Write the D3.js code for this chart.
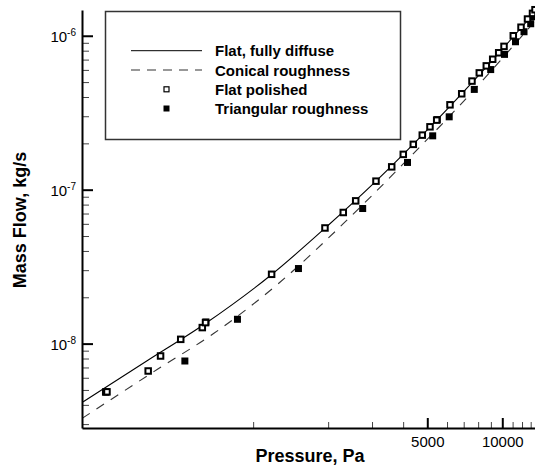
<html>
<head>
  <style>
  body { margin: 0; background: white; }
  text { font-family: Arial, "Liberation Sans", Helvetica, sans-serif; }
  </style>
  <script src="https://d3js.org/d3.v7.min.js"></script>
</head>
<body>
  <script type="text/javascript">
  // pressure (Pa) and mass flow (kg/s)
  var polishedP = [256, 259, 379, 425, 512, 625, 644, 1186, 1942, 2300, 2580, 3112, 3599, 4005, 4393, 4774, 5126, 5454, 6167, 6873, 7557, 8086, 8626, 9152, 9673, 10161, 11070, 11890, 12625, 13222, 13530];
  var polishedM = [4.85e-9, 4.86e-9, 6.64e-9, 8.31e-9, 1.066e-8, 1.271e-8, 1.369e-8, 2.82e-8, 5.64e-8, 7.11e-8, 8.46e-8, 1.136e-7, 1.407e-7, 1.696e-7, 1.97e-7, 2.262e-7, 2.561e-7, 2.831e-7, 3.559e-7, 4.198e-7, 5.076e-7, 5.738e-7, 6.373e-7, 7.035e-7, 7.752e-7, 8.531e-7, 1.0e-6, 1.136e-6, 1.284e-6, 1.398e-6, 1.476e-6];

  var triangP = [532, 646, 865, 1520, 2752, 4164, 5256, 5484, 6122, 7720, 8984, 10208, 11298, 12223, 13004, 13468];
  var triangM = [7.71e-9, 1.382e-8, 1.439e-8, 3.074e-8, 7.545e-8, 1.503e-7, 2.238e-7, 2.852e-7, 2.974e-7, 4.482e-7, 6.03e-7, 7.569e-7, 9.141e-7, 1.062e-6, 1.197e-6, 1.329e-6];

  var diffuseP = [206, 378, 641, 1190, 1942, 3112, 5126, 9177, 13530];
  var diffuseM = [4.15e-9, 7.79e-9, 1.345e-8, 2.822e-8, 5.618e-8, 1.136e-7, 2.549e-7, 7.004e-7, 1.426e-6];

  var conicalP = [206, 413, 696, 1281, 2300, 4031, 6765, 13530];
  var conicalM = [3.27e-9, 6.81e-9, 1.167e-8, 2.504e-8, 6.01e-8, 1.487e-7, 3.544e-7, 1.246e-6];

  // ticks
  var xMajor = [5000, 10000];
  var xMinor = [1000, 2000, 3000, 4000, 6000, 7000, 8000, 9000, 11000, 12000, 13000];
  var yMajor = [1e-8, 1e-7, 1e-6];
  var yMajorExp = ["-8", "-7", "-6"];
  var yMinor = [3e-9, 4e-9, 5e-9, 6e-9, 7e-9, 8e-9, 9e-9,
                2e-8, 3e-8, 4e-8, 5e-8, 6e-8, 7e-8, 8e-8, 9e-8,
                2e-7, 3e-7, 4e-7, 5e-7, 6e-7, 7e-7, 8e-7, 9e-7];

  var legendNames = ["Flat, fully diffuse", "Conical roughness", "Flat polished", "Triangular roughness"];

  var screen = {width: 535, height: 468};
  var plot = {left: 82, right: 535, top: 10, bottom: 428};

  var xScale = d3.scaleLog()
    .domain([205.6, 13530])
    .range([plot.left, plot.right]);

  var yScale = d3.scaleLog()
    .domain([2.83e-9, 1.47e-6])
    .range([plot.bottom, plot.top]);

  var svg = d3.select("body").append("svg")
    .attr("width", screen.width)
    .attr("height", screen.height);

  svg.append("defs").append("clipPath")
    .attr("id", "clip")
    .append("rect")
    .attr("x", plot.left)
    .attr("y", 0)
    .attr("width", plot.right - plot.left)
    .attr("height", plot.bottom);

  var zip = function(a, b) {
    return a.map(function(v, i) { return [v, b[i]]; });
  };

  var line = d3.line()
    .x(function(d) { return xScale(d[0]); })
    .y(function(d) { return yScale(d[1]); })
    .curve(d3.curveMonotoneX);

  // model curves
  svg.append("path")
    .datum(zip(conicalP, conicalM))
    .attr("d", line)
    .attr("clip-path", "url(#clip)")
    .attr("fill", "none")
    .attr("stroke", "#333")
    .attr("stroke-width", 1.1)
    .attr("stroke-dasharray", "9,8");

  svg.append("path")
    .datum(zip(diffuseP, diffuseM))
    .attr("d", line)
    .attr("clip-path", "url(#clip)")
    .attr("fill", "none")
    .attr("stroke", "black")
    .attr("stroke-width", 1.1);

  // axes
  var drawAxis = function(axis, cls, transform) {
    return svg.append("g")
      .attr("class", cls)
      .attr("transform", transform)
      .call(axis);
  };

  var xMinorG = drawAxis(d3.axisBottom(xScale).tickValues(xMinor).tickSize(-6).tickSizeOuter(0).tickFormat(""),
    "xMinor", "translate(0," + plot.bottom + ")");
  var xMajorG = drawAxis(d3.axisBottom(xScale).tickValues(xMajor).tickSize(-10).tickSizeOuter(0).tickFormat(d3.format("d")),
    "xMajor", "translate(0," + plot.bottom + ")");
  var yMinorG = drawAxis(d3.axisLeft(yScale).tickValues(yMinor).tickSize(-7).tickSizeOuter(0).tickFormat(""),
    "yMinor", "translate(" + plot.left + ",0)");
  var yMajorG = drawAxis(d3.axisLeft(yScale).tickValues(yMajor).tickSize(-11).tickSizeOuter(0).tickFormat(""),
    "yMajor", "translate(" + plot.left + ",0)");

  svg.selectAll(".xMinor line, .yMinor line").attr("stroke", "#444").attr("stroke-width", 1);
  svg.selectAll(".xMajor line, .yMajor line").attr("stroke", "black").attr("stroke-width", 2);
  svg.selectAll(".domain").attr("stroke", "black").attr("stroke-width", 2);
  xMinorG.select(".domain").remove();
  yMinorG.select(".domain").remove();

  xMajorG.selectAll("text")
    .attr("y", 8)
    .attr("dy", "0.71em")
    .style("font-size", "15px")
    .style("font-family", "Arial, 'Liberation Sans', sans-serif")
    .attr("fill", "black");

  // 10^n labels on y
  yMajorG.selectAll(".tick").each(function(d, i) {
    var t = d3.select(this).append("text")
      .attr("x", -6)
      .attr("y", 6)
      .attr("text-anchor", "end")
      .style("font-size", "15px")
      .style("font-family", "Arial, 'Liberation Sans', sans-serif")
      .attr("fill", "black");
    t.append("tspan").text("10");
    t.append("tspan").attr("dy", -6).style("font-size", "10px").text(yMajorExp[i]);
  });

  // axis titles
  svg.append("text")
    .attr("x", 310)
    .attr("y", 462)
    .attr("text-anchor", "middle")
    .style("font-size", "18px")
    .style("font-weight", "bold")
    .text("Pressure, Pa");

  svg.append("text")
    .attr("transform", "translate(26,220) rotate(-90)")
    .attr("text-anchor", "middle")
    .style("font-size", "18px")
    .style("font-weight", "bold")
    .text("Mass Flow, kg/s");

  // data points
  var sq = 7;
  svg.append("g").selectAll("rect")
    .data(zip(triangP, triangM))
    .enter()
    .append("rect")
    .attr("x", function(d) { return xScale(d[0]) - sq / 2; })
    .attr("y", function(d) { return yScale(d[1]) - sq / 2; })
    .attr("width", sq)
    .attr("height", sq)
    .attr("fill", "black");

  svg.append("g").selectAll("rect")
    .data(zip(polishedP, polishedM))
    .enter()
    .append("rect")
    .attr("x", function(d) { return xScale(d[0]) - (sq - 1.5) / 2; })
    .attr("y", function(d) { return yScale(d[1]) - (sq - 1.5) / 2; })
    .attr("width", sq - 1.5)
    .attr("height", sq - 1.5)
    .attr("fill", "white")
    .attr("stroke", "black")
    .attr("stroke-width", 2);

  // legend
  var lg = svg.append("g");
  lg.append("rect")
    .attr("x", 105.5)
    .attr("y", 11.5)
    .attr("width", 295)
    .attr("height", 128)
    .attr("fill", "white")
    .attr("stroke", "#333")
    .attr("stroke-width", 1.5);

  var rowY = [50.7, 70, 89.3, 108.5];
  lg.append("line")
    .attr("x1", 131).attr("x2", 202)
    .attr("y1", rowY[0]).attr("y2", rowY[0])
    .attr("stroke", "black").attr("stroke-width", 1);
  lg.append("line")
    .attr("x1", 131).attr("x2", 202)
    .attr("y1", rowY[1]).attr("y2", rowY[1])
    .attr("stroke", "#777").attr("stroke-width", 1.5)
    .attr("stroke-dasharray", "9,7");
  lg.append("rect")
    .attr("x", 164).attr("y", rowY[2] - 2.5)
    .attr("width", 5).attr("height", 5)
    .attr("fill", "white").attr("stroke", "black").attr("stroke-width", 1.2);
  lg.append("rect")
    .attr("x", 163.5).attr("y", rowY[3] - 3)
    .attr("width", 6).attr("height", 6)
    .attr("fill", "black");

  lg.selectAll(".lgText")
    .data(legendNames)
    .enter()
    .append("text")
    .attr("class", "lgText")
    .attr("x", 215)
    .attr("y", function(d, i) { return rowY[i] + 5.5; })
    .style("font-size", "15px")
    .style("font-weight", "bold")
    .text(function(d) { return d; });
  </script>
</body>
</html>
